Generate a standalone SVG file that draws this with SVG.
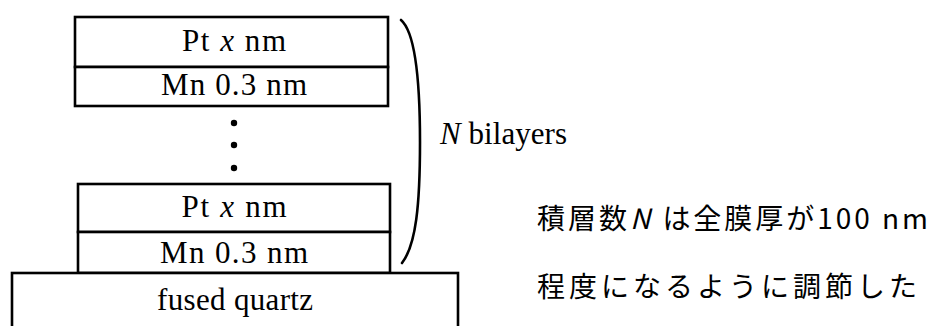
<svg xmlns="http://www.w3.org/2000/svg" width="936" height="326" viewBox="0 0 936 326">
<style>
.box{fill:#fff;stroke:#000;stroke-width:2.6}
.t{font-family:"Liberation Serif","Times New Roman",serif;font-size:31px;fill:#000;text-anchor:middle}
.it{font-style:italic}
.jp{font-family:"Noto Sans CJK JP","Noto Sans",sans-serif;font-size:28px;font-weight:400;fill:#000}
.brace{fill:none;stroke:#000;stroke-width:2.6;stroke-linecap:round}
</style>
<rect width="936" height="326" fill="#fff"/>
<g id="top-pt">
<rect class="box" x="75" y="17" width="313" height="50"/>
<text class="t" x="234" y="51" textLength="104" lengthAdjust="spacing">Pt  <tspan class="it">x</tspan> nm</text>
</g>
<g id="top-mn">
<rect class="box" x="75" y="67" width="313" height="39"/>
<text class="t" x="234" y="95" textLength="146" lengthAdjust="spacing">Mn  0.3 nm</text>
</g>
<g id="dots">
<circle cx="234" cy="123" r="3.2"/>
<circle cx="234" cy="145" r="3.2"/>
<circle cx="234" cy="168" r="3.2"/>
</g>
<g id="bottom-pt">
<rect class="box" x="78" y="184" width="312" height="48"/>
<text class="t" x="234" y="217" textLength="105" lengthAdjust="spacing">Pt  <tspan class="it">x</tspan> nm</text>
</g>
<g id="bottom-mn">
<rect class="box" x="78" y="232" width="312" height="41"/>
<text class="t" x="234" y="263" textLength="148" lengthAdjust="spacing">Mn  0.3 nm</text>
</g>
<g id="substrate">
<rect class="box" x="12" y="273" width="446" height="70"/>
<text class="t" x="235" y="310" textLength="156" lengthAdjust="spacing">fused quartz</text>
</g>
<g id="connectors">
<path class="brace" d="M401,20 C415,32 420,80 420,142 C420,205 416,245 402,263"/>
</g>
<g id="label-n">
<text class="t" x="440" y="144" style="text-anchor:start;font-size:31px" textLength="127" lengthAdjust="spacing"><tspan class="it">N</tspan> bilayers</text>
</g>
<g id="note">
<text class="jp" x="537" y="229" textLength="391" lengthAdjust="spacing">積層数<tspan font-style="italic">N</tspan> は全膜厚が100 nm</text>
<text class="jp" x="537" y="297" textLength="380" lengthAdjust="spacing">程度になるように調節した</text>
</g>
</svg>
